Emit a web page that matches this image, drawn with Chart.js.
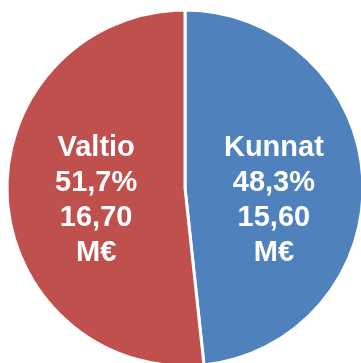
<!DOCTYPE html>
<html>
<head>
<meta charset="utf-8">
<script src="https://cdn.jsdelivr.net/npm/chart.js@4/dist/chart.umd.min.js"></script>
<style>
  html, body { margin: 0; padding: 0; background: #fff; overflow: hidden; }
  #wrap { position: absolute; left: 0; top: 0; width: 370px; height: 376px; }
</style>
</head>
<body>
<div id="wrap"><canvas id="pie" width="370" height="376"></canvas></div>
<script>
const labels = ['Kunnat', 'Valtio'];
const shares = [48.3, 51.7];
const amounts = [15.60, 16.70];
const colors = ['#4F81BD', '#C0504D'];

const fmt = (v, d) => v.toFixed(d).replace('.', ',');

// text block in the middle of each slice
const sliceText = {
    id: 'sliceText',
    afterDatasetsDraw(chart) {
        const ctx = chart.ctx;
        const meta = chart.getDatasetMeta(0);
        const cy = (chart.chartArea.top + chart.chartArea.bottom) / 2;
        ctx.save();
        ctx.fillStyle = '#fff';
        ctx.font = 'bold 29px "Liberation Sans", Arial, sans-serif';
        ctx.textAlign = 'center';
        ctx.textBaseline = 'middle';
        meta.data.forEach((arc, i) => {
            const pos = arc.tooltipPosition();
            const lines = [labels[i], fmt(shares[i], 1) + '%', fmt(amounts[i], 2), 'M€'];
            const lh = 35;
            const y0 = cy + 12 - lh * (lines.length - 1) / 2;
            lines.forEach((t, j) => ctx.fillText(t, pos.x, y0 + j * lh));
        });
        ctx.restore();
    }
};

new Chart(document.querySelector('#pie').getContext('2d'), {
    type: 'pie',
    data: {
        labels: labels,
        datasets: [{
            data: shares,
            backgroundColor: colors,
            borderColor: '#fff',
            borderWidth: 3,
            hoverOffset: 0
        }]
    },
    options: {
        responsive: false,
        animation: false,
        radius: 178,
        layout: { padding: 0 },
        plugins: {
            legend: { display: false },
            tooltip: { enabled: false }
        },
        events: []
    },
    plugins: [sliceText]
});
</script>
</body>
</html>
